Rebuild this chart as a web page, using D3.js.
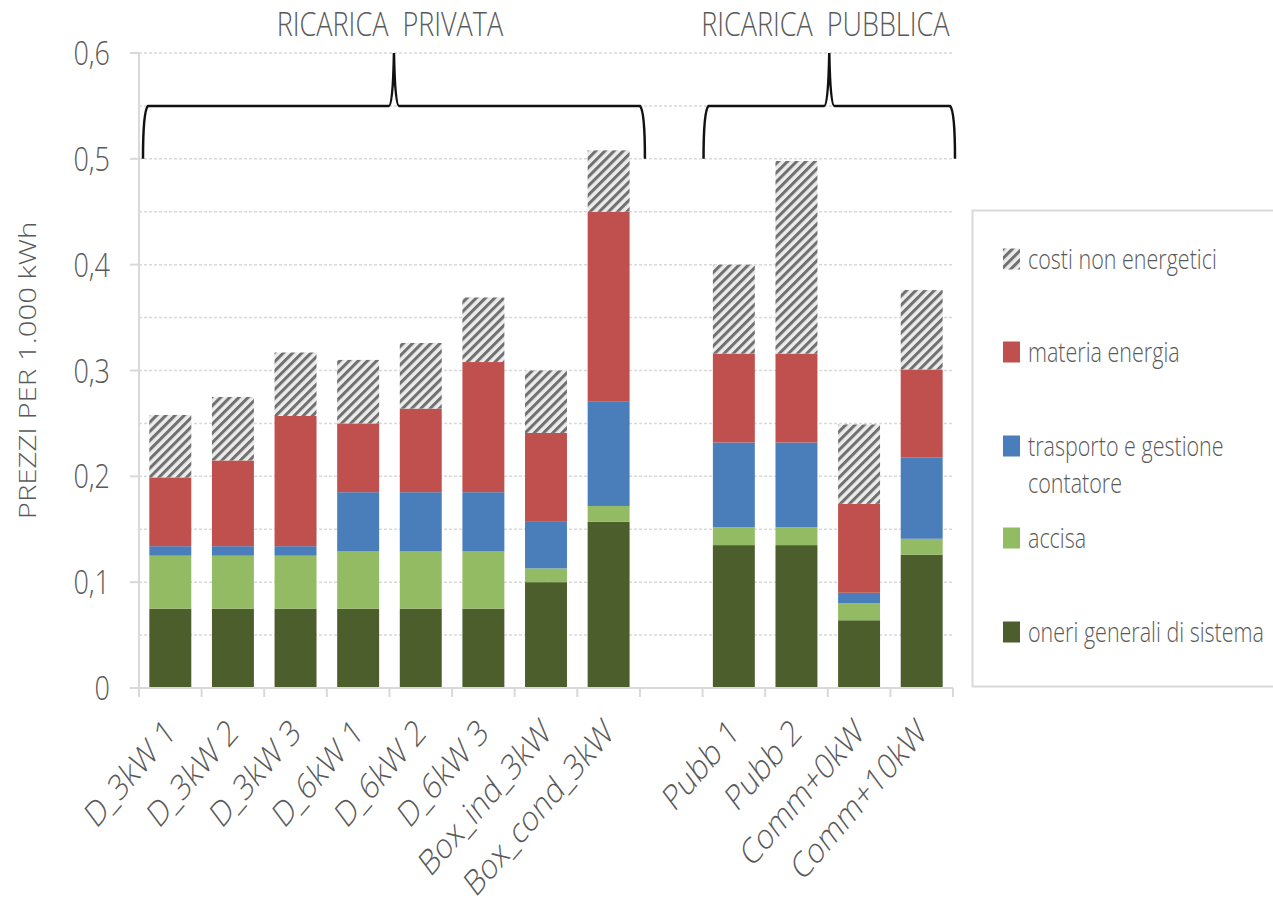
<!DOCTYPE html>
<html><head><meta charset="utf-8">
<script src="https://cdn.jsdelivr.net/npm/d3@7"></script>
<style>
body{margin:0;background:#fff;}
svg{display:block;}
text{font-family:"Open Sans",sans-serif;font-weight:300;fill:#595959;}
</style>
</head><body>
<svg id="c" width="1273" height="908"></svg>
<script>
// ---- data ----
const privateCategories = ["D_3kW 1","D_3kW 2","D_3kW 3","D_6kW 1","D_6kW 2","D_6kW 3","Box_ind_3kW","Box_cond_3kW"];
const publicCategories = ["Pubb 1","Pubb 2","Comm+0kW","Comm+10kW"];
const oneriGenerali      = [0.075,0.075,0.075,0.075,0.075,0.075,0.100,0.157,0.135,0.135,0.064,0.126];
const accisa             = [0.050,0.050,0.050,0.054,0.054,0.054,0.013,0.015,0.017,0.017,0.016,0.015];
const trasporto          = [0.009,0.009,0.009,0.056,0.056,0.056,0.044,0.099,0.080,0.080,0.010,0.077];
const materiaEnergia     = [0.065,0.081,0.123,0.065,0.079,0.123,0.084,0.179,0.084,0.084,0.084,0.083];
const costiNonEnergetici = [0.059,0.060,0.060,0.060,0.062,0.061,0.059,0.058,0.084,0.182,0.075,0.075];
const seriesKeys   = ["oneri","accisa","trasporto","materia","costi"];
const seriesLabels = [["oneri generali di sistema"],["accisa"],["trasporto e gestione","contatore"],["materia energia"],["costi non energetici"]];
const seriesColors = ["#4b5e2c","#93bb63","#4a7ebb","#c0504d","url(#hatch)"];
const yTickValues  = [0,0.1,0.2,0.3,0.4,0.5,0.6];
const groupLabels  = ["RICARICA  PRIVATA","RICARICA  PUBBLICA"];
const yTitle = "PREZZI PER 1.000 kWh";

// ---- setup ----
const K = 1.25; // vertical text stretch of the reference
const svg = d3.select("#c");
const defs = svg.append("defs");
const pat = defs.append("pattern").attr("id","hatch").attr("patternUnits","userSpaceOnUse")
  .attr("width",6.5).attr("height",6.5).attr("patternTransform","rotate(45)");
pat.append("rect").attr("width",6.5).attr("height",6.5).attr("fill","#ececec");
pat.append("rect").attr("width",3).attr("height",6.5).attr("fill","#707070");

const gap = " ";
const allCats = [...privateCategories, gap, ...publicCategories];
const dataCats = [...privateCategories, ...publicCategories];
const rows = dataCats.map((c,i)=>({cat:c, oneri:oneriGenerali[i], accisa:accisa[i], trasporto:trasporto[i], materia:materiaEnergia[i], costi:costiNonEnergetici[i]}));

const x = d3.scaleBand().domain(allCats).range([139,953]).paddingInner(0.33).paddingOuter(0.165);
const y = d3.scaleLinear().domain([0,0.6]).range([688,53]);
const fmt = d3.formatLocale({decimal:",",thousands:".",grouping:[3],currency:["","€"]}).format(".1f");
const tickFmt = v => v===0 ? "0" : fmt(v);

// gridlines every 0.05
svg.append("g").selectAll("line").data(y.ticks(12).filter(v=>v>0)).join("line")
  .attr("x1",x.range()[0]).attr("x2",x.range()[1])
  .attr("y1",d=>y(d)).attr("y2",d=>y(d))
  .attr("stroke","#d9d9d9").attr("stroke-width",1.5).attr("stroke-dasharray","3,2");

// bars
const stack = d3.stack().keys(seriesKeys)(rows);
svg.append("g").selectAll("g").data(stack).join("g")
  .attr("fill",(d,i)=>seriesColors[i])
  .selectAll("rect").data(d=>d).join("rect")
  .attr("x",d=>x(d.data.cat)).attr("width",x.bandwidth())
  .attr("y",d=>y(d[1])).attr("height",d=>y(d[0])-y(d[1]));

// axes
const outer = (x.step()-x.bandwidth())/2;
const edges = allCats.map(c=>x(c)-outer).concat([x(allCats[allCats.length-1])+x.bandwidth()+outer]);
const axisG = svg.append("g").attr("stroke","#d9d9d9").attr("stroke-width",2);
axisG.append("line").attr("x1",x.range()[0]).attr("x2",x.range()[0]).attr("y1",y(0.6)).attr("y2",y(0));
axisG.append("line").attr("x1",x.range()[0]-8).attr("x2",x.range()[1]).attr("y1",y(0)).attr("y2",y(0));
axisG.selectAll(".yt").data(yTickValues).join("line").attr("class","yt")
  .attr("x1",x.range()[0]-9).attr("x2",x.range()[0]).attr("y1",d=>y(d)).attr("y2",d=>y(d));
axisG.selectAll(".xt").data(edges).join("line").attr("class","xt")
  .attr("x1",d=>d).attr("x2",d=>d).attr("y1",y(0)).attr("y2",y(0)+9);

// y tick labels
svg.append("g").selectAll("text").data(yTickValues).join("text")
  .attr("transform",d=>`translate(110,${y(d)+12}) scale(1,${K})`)
  .attr("text-anchor","end").style("font-size","27px").text(tickFmt);

// y title
svg.append("text").attr("transform",`translate(36,${(y(0.6)+y(0))/2}) scale(1,${K}) rotate(-90)`)
  .attr("text-anchor","middle").style("font-size","23.5px").text(yTitle);

// x labels
svg.append("g").selectAll("text").data(dataCats).join("text")
  .attr("transform",d=>`translate(${x(d)+x.bandwidth()/2+7},735) scale(1,${K}) rotate(-43)`)
  .attr("text-anchor","end").style("font-size","28.5px").text(d=>d);

// braces
function bracePath(L,R){
  const C=(L+R)/2, yE=y(0.5), yB=y(0.55), yT=y(0.6);
  return `M${L},${yE} C${L},${yE-25} ${L+1},${yB+4} ${L+5},${yB} L${C-5},${yB} Q${C-1},${yB} ${C},${yT} Q${C+1},${yB} ${C+5},${yB} L${R-5},${yB} C${R-1},${yB+4} ${R},${yE-25} ${R},${yE}`;
}
const braces = [
  [x(privateCategories[0])-outer+4, x(privateCategories[privateCategories.length-1])+x.bandwidth()+outer+5],
  [x(publicCategories[0])-outer+1, x(publicCategories[publicCategories.length-1])+x.bandwidth()+outer+2]
];
svg.append("g").selectAll("path").data(braces).join("path")
  .attr("d",d=>bracePath(d[0],d[1])).attr("fill","none").attr("stroke","#111").attr("stroke-width",2.5);
svg.append("g").selectAll("text").data(braces).join("text")
  .attr("transform",(d,i)=>`translate(${(d[0]+d[1])/2-4},36) scale(1,${K})`)
  .attr("text-anchor","middle").style("font-size","27px").style("white-space","pre")
  .text((d,i)=>groupLabels[i]);

// legend
const lg = svg.append("g");
lg.append("rect").attr("x",972.5).attr("y",210.5).attr("width",340).attr("height",476)
  .attr("fill","#fff").attr("stroke","#d9d9d9").attr("stroke-width",2);
const legendOrder = [4,3,2,1,0];
const legendY = [259,352,446,538,632];
legendOrder.forEach((si,j)=>{
  const cy = legendY[j];
  lg.append("rect").attr("x",1003).attr("y",cy-10.5).attr("width",17).attr("height",21).attr("fill",seriesColors[si]);
  seriesLabels[si].forEach((line,k)=>{
    lg.append("text").attr("transform",`translate(1028,${cy+10+k*37}) scale(1,${K})`)
      .style("font-size","21.5px").text(line);
  });
});
</script>
</body></html>
